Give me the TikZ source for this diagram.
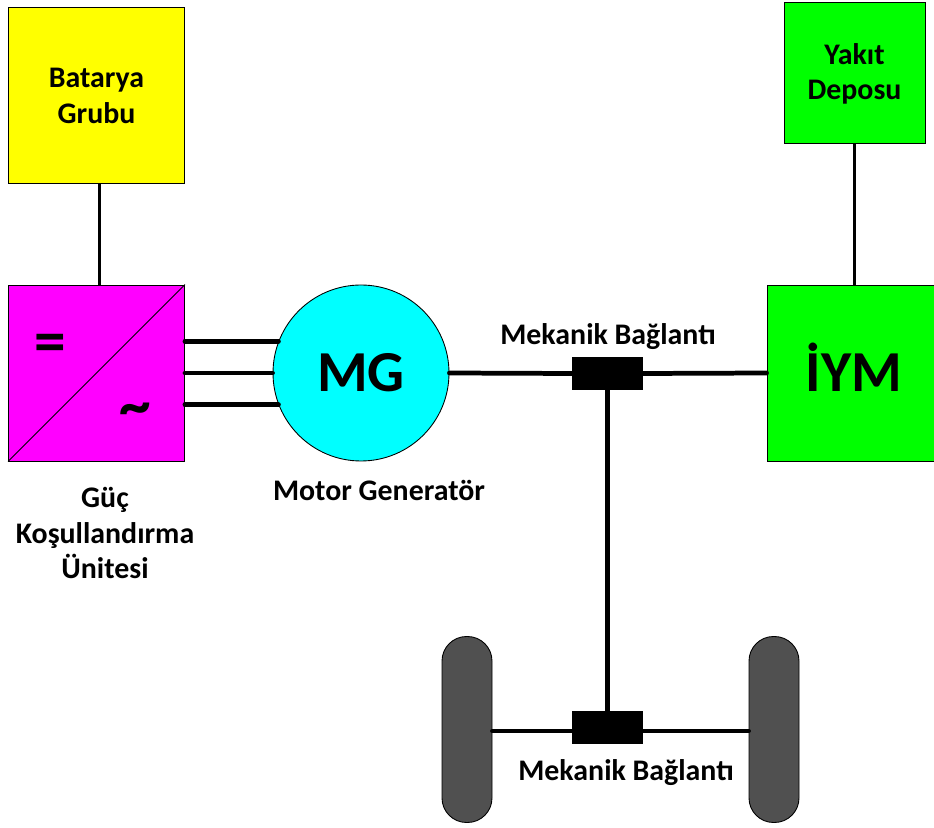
\documentclass[tikz,border=0pt]{standalone}
\usepackage{fontspec}
\setmainfont{Carlito}
\definecolor{tekerrenk}{RGB}{80,80,80}
\definecolor{sari}{RGB}{255,255,0}
\definecolor{yesil}{RGB}{0,255,0}
\definecolor{pembe}{RGB}{255,0,255}
\definecolor{turkuaz}{RGB}{0,255,255}
\tikzset{
  kutu/.style={draw=black, line width=0.5pt, minimum size=3.52cm, inner sep=0pt, align=center, font=\bfseries\fontsize{17}{20}\selectfont},
  baglanti/.style={draw=none, fill=black, minimum width=1.42cm, minimum height=0.66cm, inner sep=0pt},
  teker/.style={draw=black, line width=0.5pt, fill=tekerrenk, minimum width=1cm, minimum height=3.72cm, rounded corners=0.49cm, inner sep=0pt},
  yazi/.style={align=center, inner sep=0pt, font=\bfseries\fontsize{17}{20}\selectfont},
  kalin/.style={line width=2.7pt, line cap=round},
  ince/.style={line width=1.5pt},
}
\begin{document}
\begin{tikzpicture}
\useasboundingbox (0,0) rectangle (18.68,16.54);
% Kutular
\node[kutu, fill=sari] (batarya) at (1.93,14.63) {};
\node[kutu, fill=yesil, minimum size=2.82cm] (yakit) at (17.09,15.08) {};
\node[kutu, fill=pembe] (guc) at (1.93,9.08) {};
\node[kutu, fill=yesil, minimum width=3.34cm] (iym) at (17.01,9.08) {};
\node[circle, draw=black, line width=0.5pt, fill=turkuaz, minimum size=3.52cm, inner sep=0pt, font=\bfseries\fontsize{33}{40}\selectfont] (mg) at (7.22,9.08) {MG};
\draw[line width=0.5pt] (guc.south west) -- (guc.north east);
\node[yazi, font=\bfseries\fontsize{36}{40}\selectfont] (esit) at (1.0,9.58) {=};
\node[yazi, font=\bfseries\fontsize{36}{40}\selectfont] (dalga) at (2.7,8.24) {\textasciitilde};
% Baglanti bloklari
\node[baglanti] (ust) at (12.15,9.07) {};
\node[baglanti] (alt) at (12.15,1.99) {};
% Tekerlekler
\node[teker] (solteker) at (9.34,1.95) {};
\node[teker] (sagteker) at (15.48,1.95) {};
% Hatlar
\draw[ince] ([xshift=0.06cm]batarya.south) -- ([xshift=0.06cm]guc.north);
\draw[ince] (yakit) -- (yakit.south |- iym.north);
\draw[kalin] (guc.east |- mg.159) -- (mg.159);
\draw[kalin] (guc.east) -- (mg.west);
\draw[kalin] (guc.east |- mg.201) -- (mg.201);
\draw[kalin] (mg.east) -- (ust.west);
\draw[kalin] (ust.east) -- (iym.west);
\draw[kalin] (ust.south) -- (alt.north);
\draw[kalin] ([yshift=-0.03cm]solteker.east) -- ([yshift=-0.03cm]sagteker.west);
% Yazilar
\node[yazi] (bataryayazi) at (1.93,14.62) {Batarya\\Grubu};
\node[yazi] (yakityazi) at (17.09,15.06) {Yakıt\\Deposu};
\node[yazi, font=\bfseries\fontsize{33}{40}\selectfont] (iymyazi) at (17.08,9.2) {İYM};
\node[yazi] (gucyazi) at (2.1,5.88) {Güç\\Koşullandırma\\Ünitesi};
\node[yazi] (mgyazi) at (7.58,6.73) {Motor Generatör};
\node[yazi] (ustyazi) at (12.16,9.8) {Mekanik Bağlantı};
\node[yazi] (altyazi) at (12.52,1.08) {Mekanik Bağlantı};
\end{tikzpicture}
\end{document}
